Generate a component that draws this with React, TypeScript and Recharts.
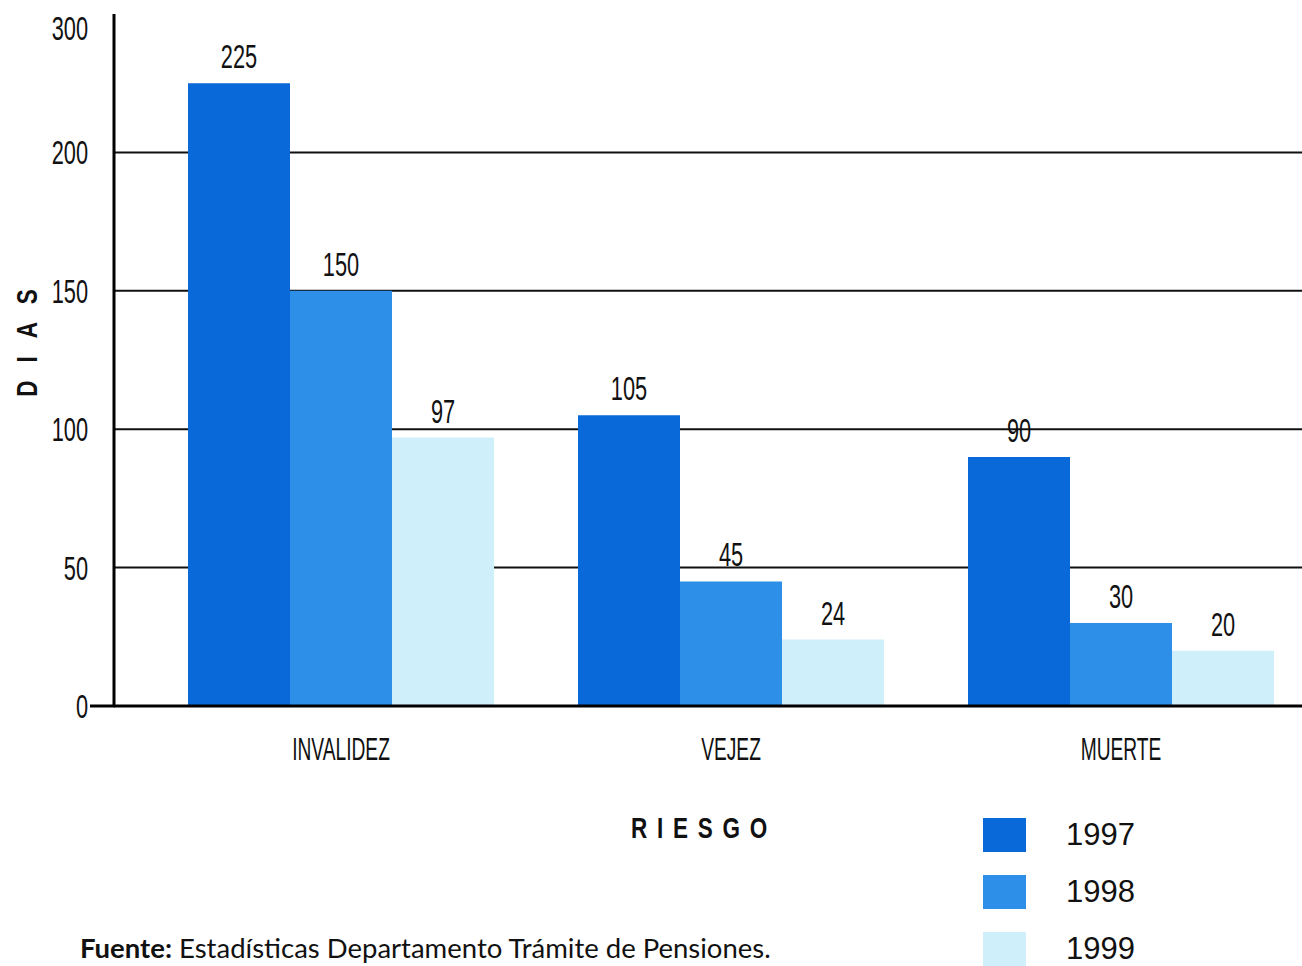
import React from "react";
import { BarChart, Bar, XAxis, YAxis, CartesianGrid, LabelList } from "recharts";

const categories = ["INVALIDEZ", "VEJEZ", "MUERTE"];
const years = ["1997", "1998", "1999"];
const values1997 = [225, 105, 90];
const values1998 = [150, 45, 30];
const values1999 = [97, 24, 20];
const colors = ["#0a69d8", "#2d8fe8", "#cfeffa"];

// the printed axis is broken above 200: its top tick reads "300"
const yTicks = [0, 50, 100, 150, 200, 245];
const yTickLabels = ["0", "50", "100", "150", "200", "300"];
const gridValues = [50, 100, 150, 200];
const yDomain = [0, 250];

const SANS = '"Liberation Sans", Arial, sans-serif';

const data = categories.map((name, i) => ({
  name,
  y1997: values1997[i],
  y1998: values1998[i],
  y1999: values1999[i],
}));
const seriesKeys = ["y1997", "y1998", "y1999"];

// narrow text: the print uses a condensed face, so squeeze a regular one
const Cond = ({ x, y, size, sx = 0.66, anchor = "middle", rotate = 0, bold = false, spacing = 0, children }: any) => (
  <text
    transform={`translate(${x},${y}) rotate(${rotate}) scale(${sx},1)`}
    textAnchor={anchor}
    fontSize={size}
    fontFamily={SANS}
    fontWeight={bold ? "bold" : "normal"}
    letterSpacing={spacing}
    fill="#111"
  >
    {children}
  </text>
);

const YTick = (props: any) => {
  const { x, y, payload } = props;
  const idx = yTicks.indexOf(payload.value);
  return (
    <g>
      {payload.value === 0 && (
        <line x1={x + 2} x2={x + 27} y1={y} y2={y} stroke="#000" strokeWidth={3} />
      )}
      <Cond x={x} y={y + 12} size={33} anchor="end">
        {idx >= 0 ? yTickLabels[idx] : payload.value}
      </Cond>
    </g>
  );
};

const XTick = (props: any) => {
  const { x, y, payload } = props;
  return (
    <Cond x={x} y={y + 36} size={32} sx={0.6}>
      {payload.value}
    </Cond>
  );
};

const BarValue = (props: any) => {
  const { x, y, width, value } = props;
  return (
    <Cond x={x + width / 2} y={y - 15} size={33}>
      {value}
    </Cond>
  );
};

export default function App() {
  return (
    <div
      style={{
        position: "absolute",
        left: 0,
        top: 0,
        width: 1302,
        height: 966,
        overflow: "hidden",
        background: "#fff",
      }}
    >
      <BarChart
        width={1316}
        height={966}
        data={data}
        margin={{ top: 14, right: 0, bottom: 0, left: 0 }}
        barGap={0}
        barSize={102}
      >
        <CartesianGrid vertical={false} horizontalValues={gridValues} stroke="#111" strokeWidth={2} />
        <XAxis
          dataKey="name"
          height={260}
          padding={{ left: 32, right: 0 }}
          tickLine={false}
          tickSize={0}
          tickMargin={18}
          axisLine={{ stroke: "#000", strokeWidth: 3 }}
          tick={<XTick />}
          label={{
            content: ({ viewBox }: any) => (
              <Cond x={viewBox.x + viewBox.width / 2 - 11} y={viewBox.y + 132} size={30} sx={0.75} bold spacing={13}>
                RIESGO
              </Cond>
            ),
          }}
        />
        <YAxis
          width={114}
          domain={yDomain}
          ticks={yTicks}
          interval={0}
          tickLine={false}
          tickSize={24}
          tickMargin={2}
          axisLine={{ stroke: "#000", strokeWidth: 3 }}
          tick={<YTick />}
          label={{
            content: ({ viewBox }: any) => (
              <Cond x={37} y={viewBox.y + viewBox.height / 2 - 26} size={30} sx={0.75} rotate={-90} bold spacing={24}>
                DIAS
              </Cond>
            ),
          }}
        />
        {seriesKeys.map((key, i) => (
          <Bar key={key} dataKey={key} name={years[i]} fill={colors[i]} isAnimationActive={false}>
            <LabelList dataKey={key} content={<BarValue />} />
          </Bar>
        ))}
      </BarChart>

      <div style={{ position: "absolute", left: 983, top: 806 }}>
        {years.map((year, i) => (
          <div key={year} style={{ display: "flex", alignItems: "center", height: 57 }}>
            <div style={{ width: 43, height: 34, background: colors[i] }} />
            <span
              style={{
                marginLeft: 40,
                fontSize: 31,
                lineHeight: "30px",
                fontFamily: SANS,
                color: "#111",
              }}
            >
              {year}
            </span>
          </div>
        ))}
      </div>

      <div
        style={{
          position: "absolute",
          left: 80,
          top: 932,
          fontSize: 27.5,
          lineHeight: "32px",
          fontFamily: 'Lato, "Open Sans", sans-serif',
          color: "#111",
          whiteSpace: "nowrap",
        }}
      >
        <b>Fuente:</b> Estadísticas Departamento Trámite de Pensiones.
      </div>
    </div>
  );
}
